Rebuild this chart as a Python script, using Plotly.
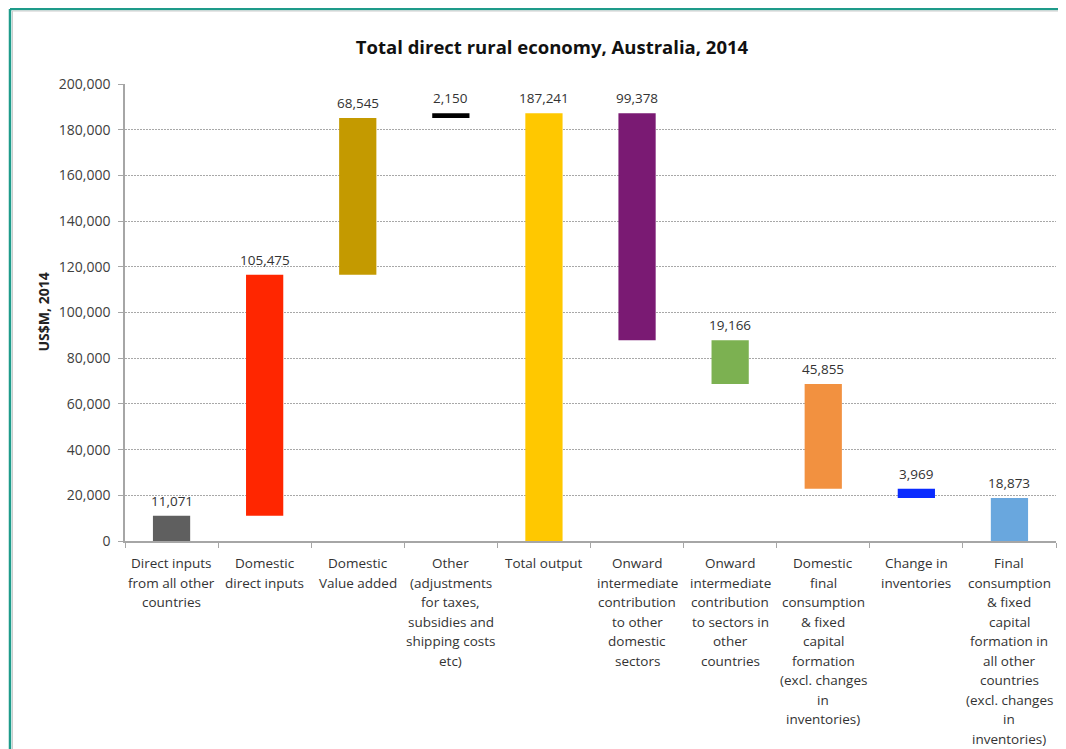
import plotly.graph_objects as go

categories = [
    "Direct inputs<br>from all other<br>countries",
    "Domestic<br>direct inputs",
    "Domestic<br>Value added",
    "Other<br>(adjustments<br>for taxes,<br>subsidies and<br>shipping costs<br>etc)",
    "Total output",
    "Onward<br>intermediate<br>contribution<br>to other<br>domestic<br>sectors",
    "Onward<br>intermediate<br>contribution<br>to sectors in<br>other<br>countries",
    "Domestic<br>final<br>consumption<br>& fixed<br>capital<br>formation<br>(excl. changes<br>in<br>inventories)",
    "Change in<br>inventories",
    "Final<br>consumption<br>& fixed<br>capital<br>formation in<br>all other<br>countries<br>(excl. changes<br>in<br>inventories)",
]
values = [11071, 105475, 68545, 2150, 187241, 99378, 19166, 45855, 3969, 18873]
measure = ["up", "up", "up", "up", "total", "down", "down", "down", "down", "down"]
colors = ["#5f5f5f", "#FF2600", "#C49A00", "#000000", "#FFC800",
          "#7A1A73", "#7CB151", "#F29140", "#0A2BFF", "#69A7DE"]

# compute floating bases
bases, heights, tops = [], [], []
running = 0
for v, m in zip(values, measure):
    if m == "up":
        bases.append(running); running += v
    elif m == "total":
        bases.append(0); running = v
    else:
        running -= v; bases.append(running)
    heights.append(v)
    tops.append(bases[-1] + v)

xkeys = [f"c{i}" for i in range(len(categories))]

fig = go.Figure()
fig.add_trace(go.Bar(
    x=xkeys, y=heights, base=bases,
    marker=dict(color=colors, line=dict(width=0)),
    width=0.4, hoverinfo="skip", showlegend=False,
))

FONT = "Open Sans"
annotations = []
for xk, t, v in zip(xkeys, tops, values):
    annotations.append(dict(x=xk, y=t, xref="x", yref="y", text=f"{v:,}",
                            showarrow=False, yanchor="middle", yshift=15,
                            font=dict(family=FONT, size=13.5, color="#333333")))
for xk, lab in zip(xkeys, categories):
    for i, line in enumerate(lab.split("<br>")):
        annotations.append(dict(x=xk, y=0, xref="x", yref="y", text=line,
                                showarrow=False, yanchor="middle",
                                yshift=-(22 + i * 19.5),
                                font=dict(family=FONT, size=13.5, color="#333333")))

# page offset (browser body margin of 8px)
OFF = 8
W, H = 1066 - OFF, 749 - OFF
L, R, T, B = 125 - OFF, 10, 84 - OFF, 208
pw, ph = W - L - R, H - T - B
def px_x(p): return (p - OFF - L) / pw
def px_y(p): return (H - B - (p - OFF)) / ph

annotations.append(dict(x=px_x(43), y=0.5, xref="paper", yref="paper", text="<b>US$M, 2014</b>",
                        textangle=-90, showarrow=False, xanchor="center",
                        font=dict(family=FONT, size=14, color="#222222")))

shapes = [
    dict(type="line", xref="paper", yref="paper", x0=px_x(10), x1=px_x(10),
         y0=px_y(780), y1=px_y(9), line=dict(color="#1E9B8A", width=2.5)),
    dict(type="line", xref="paper", yref="paper", x0=px_x(10), x1=px_x(1090),
         y0=px_y(9), y1=px_y(9), line=dict(color="#1E9B8A", width=2.5)),
    dict(type="line", xref="paper", yref="paper", x0=px_x(12.5), x1=px_x(1090),
         y0=px_y(11), y1=px_y(11), line=dict(color="#cccccc", width=1)),
    dict(type="line", xref="paper", yref="paper", x0=px_x(12.5), x1=px_x(12.5),
         y0=px_y(780), y1=px_y(11), line=dict(color="#cccccc", width=1)),
]

fig.update_layout(
    width=W, height=H,
    margin=dict(l=L, r=R, t=T, b=B),
    paper_bgcolor="white", plot_bgcolor="white",
    title=dict(text="<b>Total direct rural economy, Australia, 2014</b>",
               x=px_x(552), xref="paper", xanchor="center",
               y=1 - (48 - OFF) / H, yanchor="middle",
               font=dict(family=FONT, size=18.5, color="#111111")),
    bargap=0.6,
    annotations=annotations,
    shapes=shapes,
    xaxis=dict(type="category", showticklabels=False, showline=True, linecolor="#a6a6a6",
               linewidth=1.5, ticks="outside", tickson="boundaries", ticklen=5,
               tickcolor="#a6a6a6", showgrid=False, range=[-0.5, 9.5], fixedrange=True),
    yaxis=dict(range=[0, 200000], tickvals=list(range(0, 200001, 20000)), tickformat=",",
               showline=True, linecolor="#a6a6a6", linewidth=1.5, ticks="outside", ticklen=5,
               tickcolor="#a6a6a6", showgrid=True, gridcolor="#a8a8a8", griddash="2px,1px",
               gridwidth=1, zeroline=False, ticklabelstandoff=5,
               tickfont=dict(family=FONT, size=14, color="#404040")),
)

fig.write_html("out.html")
